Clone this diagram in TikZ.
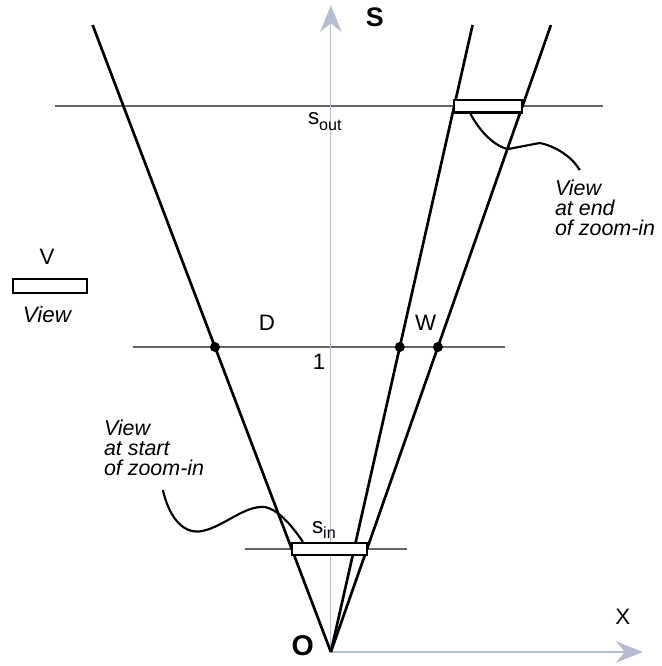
\documentclass[tikz,border=0pt]{standalone}
\usepackage{fontspec}
\setmainfont{Liberation Sans}
\usetikzlibrary{arrows.meta}
\definecolor{axiscol}{RGB}{182,188,210}

\begin{document}
\begin{tikzpicture}[x=6cm,y=6cm,
  every node/.style={font=\fontsize{12.5}{11}\selectfont},
  ray/.style={line width=1.5pt},
  level/.style={line width=0.9pt,black!60},
  axis/.style={line width=0.7pt,axiscol,-{Stealth[length=15pt,width=12pt]}},
  viewbox/.style={draw,line width=1.3pt,fill=white,inner sep=0pt},
  callout/.style={line width=1.2pt},
  note/.style={align=left,font=\fontsize{12}{11.2}\selectfont\itshape,inner sep=0pt}]
\useasboundingbox (-1.085,-0.046) rectangle (1.085,2.138);
\coordinate (O) at (0,0);
% levels s_out, 1, s_in
\draw[level] (-0.905,1.79) -- (0.892,1.79);
\draw[level] (-0.649,1) -- (0.570,1);
\draw[level] (-0.282,0.338) -- (0.249,0.338);
% axes
\draw[axis] (O) -- (0,2.121) coordinate (stop);
\draw[axis] (O) -- (1.023,0) coordinate (xtop);
\node[font=\fontsize{15}{16}\selectfont\bfseries] at (0.144,2.082) {S};
\node at (0.957,0.115) {X};
\node[font=\fontsize{16}{18}\selectfont\bfseries] at (-0.092,0.02) {O};
% rays
\foreach \k/\nm in {-0.38/L,0.226/A,0.351/B}{
  \draw[ray] (O) -- (\k*2.056,2.056) coordinate (\nm);
  \fill (\k,1) circle (2.8pt);
}
% views
\node[viewbox,minimum width=1.341cm,minimum height=0.252cm] (endview) at (0.516,1.790) {};
\node[viewbox,minimum width=1.48cm,minimum height=0.234cm] (startview) at (-0.0047,0.3375) {};
\node[viewbox,minimum width=1.458cm,minimum height=0.27cm] (unitview) at (-0.921,1.2) {};
\node at (-0.931,1.297) {V};
\node[font=\fontsize{12.5}{14}\selectfont\itshape] at (-0.931,1.106) {View};
% labels
\node at (-0.02,1.738) {s\raisebox{-0.5ex}{\small out}};
\node at (-0.023,0.4) {s\raisebox{-0.5ex}{\small in}};
\node at (-0.039,0.951) {1};
\node at (-0.21,1.079) {D};
\node at (0.311,1.079) {W};
% notes
\node[note,anchor=north west] (endnote) at (0.734,1.548) {View\\at end\\of zoom-in};
\node[note,anchor=north west] (startnote) at (-0.745,0.763) {View\\at start\\of zoom-in};
\coordinate (endtail) at (0.816,1.580);
\coordinate (starttail) at (-0.551,0.531);
\draw[callout] (endview.203) .. controls (0.482,1.718) and (0.528,1.662) .. (0.580,1.649)
  -- (0.685,1.669) .. controls (0.734,1.659) and (0.790,1.626) .. (endtail);
\draw[callout] (starttail) .. controls (-0.528,0.433) and (-0.479,0.384) .. (-0.420,0.397)
  .. controls (-0.348,0.413) and (-0.282,0.482) .. (-0.216,0.475)
  .. controls (-0.167,0.466) and (-0.118,0.400) .. (startview.165);
\end{tikzpicture}
\end{document}
